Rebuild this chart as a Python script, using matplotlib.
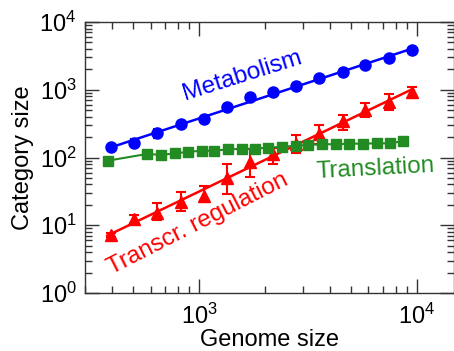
import numpy as np
import matplotlib
matplotlib.use("Agg")
import matplotlib.pyplot as plt
from matplotlib.ticker import LogLocator, NullFormatter

plt.rcParams['font.family'] = ['Liberation Sans', 'DejaVu Sans']
plt.rcParams['mathtext.fontset'] = 'custom'
plt.rcParams['mathtext.rm'] = 'Liberation Sans'
plt.rcParams['mathtext.it'] = 'Liberation Sans'

# Genome size bins (Metabolism & Transcr. regulation)
genome_x = [395, 503, 641, 826, 1054, 1345, 1714, 2188, 2791, 3559, 4584, 5789, 7463, 9510]
metabolism = [141, 166, 228, 309, 370, 550, 774, 936, 1148, 1476, 1828, 2342, 2913, 3860]
metabolism_err = [8, 20, 35, 30, 35, 60, 40, 40, 40, 50, 60, 70, 90, 110]

transcr = [7.2, 12.2, 15.0, 22.3, 27.3, 50.4, 86.7, 113, 158, 220, 346, 502, 659, 917]
transcr_low = [6.6, 10.7, 11.9, 16.4, 21.8, 28.6, 51, 80, 115, 158, 255, 392, 502, 748]
transcr_high = [7.8, 14.2, 21.1, 30.6, 37.9, 79.4, 132, 137, 215, 302, 424, 644, 865, 1109]

# Translation
transl_x = [383, 579, 667, 776, 887, 1029, 1176, 1363, 1571, 1808, 2080, 2397, 2781,
            3177, 3684, 4256, 4898, 5644, 6548, 7537, 8670]
translation = [90, 113, 109, 115, 121, 126, 126, 132, 134, 135, 140, 144, 149,
               153, 157, 157, 160, 160, 162, 162, 175]

fig = plt.figure(figsize=(4.54, 3.51), dpi=100)
ax = fig.add_axes([85/454, 1-293/351, 368.5/454, 271/351])

BLUE = '#0000ff'
RED = '#ff0000'
GREEN = '#228b22'

gx = np.array(genome_x, float)

# Metabolism
m = np.array(metabolism, float)
coef = np.polyfit(np.log10(gx), np.log10(m), 1)
xf = np.array([gx[0], gx[-1]])
ax.plot(xf, 10**np.polyval(coef, np.log10(xf)), color=BLUE, lw=1.8, zorder=3)
ax.errorbar(gx, m, yerr=metabolism_err, fmt='o', color=BLUE, ms=8,
            elinewidth=1.5, capsize=3, capthick=1.5, zorder=4)

# Translation
ax.plot(transl_x, translation, color=GREEN, lw=1.5, marker='s', ms=7,
        zorder=5)

# Transcr. regulation
t = np.array(transcr, float)
coef_t = np.polyfit(np.log10(gx), np.log10(t), 1)
xt = np.array([gx[0] * 0.96, gx[-1]])
ax.plot(xt, 10**np.polyval(coef_t, np.log10(xt)), color=RED, lw=1.8, zorder=3)
yerr = [t - np.array(transcr_low), np.array(transcr_high) - t]
ax.errorbar(gx, t, yerr=yerr, fmt='^', color=RED, ms=8,
            elinewidth=1.5, capsize=3.5, capthick=1.5, zorder=4)

ax.set_xscale('log')
ax.set_yscale('log')
ax.set_xlim(10**2.4763, 10**4.169)
ax.set_ylim(1, 1e4)

ax.xaxis.set_major_locator(LogLocator(base=10, numticks=10))
ax.xaxis.set_minor_locator(LogLocator(base=10, subs=np.arange(2, 10), numticks=20))
ax.yaxis.set_major_locator(LogLocator(base=10, numticks=10))
ax.yaxis.set_minor_locator(LogLocator(base=10, subs=np.arange(2, 10), numticks=20))
ax.xaxis.set_minor_formatter(NullFormatter())
ax.yaxis.set_minor_formatter(NullFormatter())

ax.tick_params(which='both', direction='in', top=True, right=True,
               color='#333333', width=1.0, labelsize=17)
ax.tick_params(which='major', length=10)
ax.tick_params(which='minor', length=5)
ax.tick_params(axis='x', which='major', pad=8)
ax.tick_params(axis='y', which='major', pad=6)
for s in ax.spines.values():
    s.set_color('#333333')
    s.set_linewidth(1.0)

ax.set_xlabel('Genome size', fontsize=17, labelpad=0)
ax.set_ylabel('Category size', fontsize=17, labelpad=4)

ax.text(1609, 1346, 'Metabolism', color=BLUE, fontsize=17.5, rotation=17.5,
        ha='center', va='baseline', rotation_mode='anchor')
ax.text(1022, 8.8, 'Transcr. regulation', color=RED, fontsize=17.5, rotation=27,
        ha='center', va='baseline', rotation_mode='anchor')
ax.text(6500, 55.2, 'Translation', color=GREEN, fontsize=17.5, rotation=3,
        ha='center', va='baseline', rotation_mode='anchor')

fig.savefig('out.png', dpi=100)
